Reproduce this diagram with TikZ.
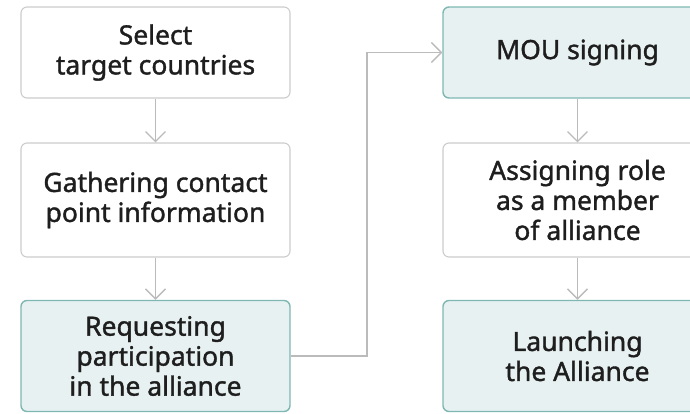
\documentclass[tikz,border=0pt]{standalone}
\usepackage{fontspec}
\setmainfont{Noto Sans}[FakeBold=1.4]
\usepackage{tikz}
\usetikzlibrary{
    arrows.meta,
    positioning
}
\definecolor{boxgray}{HTML}{CCCCCC}
\definecolor{linkgray}{HTML}{BBBBBB}
\definecolor{tealline}{HTML}{7FB8B2}
\definecolor{tealfill}{HTML}{E8F1F1}
\definecolor{textdark}{HTML}{1E1E1E}
\tikzset{
    stepbox/.style={draw=boxgray, line width=1.1pt, fill=white, rounded corners=6pt,
        minimum width=269pt, align=center, inner sep=0pt, text=textdark,
        font=\fontsize{26.5}{30}\selectfont\bfseries},
    keybox/.style={stepbox, draw=tealline, fill=tealfill, line width=1.4pt},
    link/.style={-{Straight Barb[length=10pt, width=20pt]}, draw=linkgray, line width=1.3pt}
}

\begin{document}
\begin{tikzpicture}[x=1pt, y=1pt]
    \useasboundingbox (0,0) rectangle (690,-413);
    % left column
    \node[stepbox, minimum height=91pt]  (sel) at (155.5,-52.5) {Select\\target countries};
    \node[stepbox, minimum height=114pt] (gat) at (155.5,-200)  {Gathering contact\\point information};
    \node[keybox,  minimum height=111pt] (req) at (155.5,-356)  {Requesting\\participation\\in the alliance};
    % right column
    \node[keybox,  minimum height=91pt]  (mou) at (577.5,-52.5) {MOU signing};
    \node[stepbox, minimum height=114pt] (asg) at (577.5,-200)  {Assigning role\\as a member\\of alliance};
    \node[keybox,  minimum height=111pt] (lau) at (577.5,-356)  {Launching\\the Alliance};
    % links
    \draw[link] (sel) -- (gat);
    \draw[link] (gat) -- (req);
    \draw[link] (mou) -- (asg);
    \draw[link] (asg) -- (lau);
    \coordinate (turn) at (367,-52.5);
    \draw[link] (req.east) -| (turn) -- (mou.west);
\end{tikzpicture}
\end{document}
